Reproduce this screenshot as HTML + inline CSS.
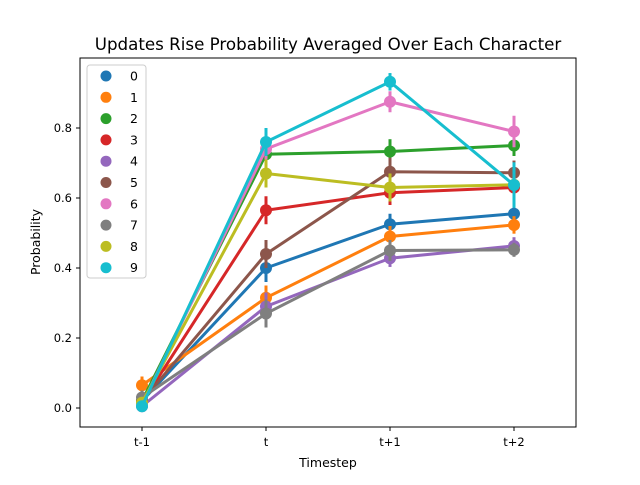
<!DOCTYPE html>
<html><head><meta charset="utf-8"><style>
body{margin:0;background:#fff}
svg{font-family:"DejaVu Sans","Liberation Sans",sans-serif}
</style></head><body>
<svg id="chart" width="640" height="480">
<rect width="640" height="480" fill="#fff"/>
<text x="328" y="50" text-anchor="middle" font-size="16.7">Updates Rise Probability Averaged Over Each Character</text>
<g id="plot"></g>
<rect x="80" y="58" width="496" height="369" fill="none" stroke="#000" stroke-width="1"/>
<text x="328" y="467" text-anchor="middle" font-size="12.5">Timestep</text>
<text x="0" y="0" transform="translate(40,242) rotate(-90)" text-anchor="middle" font-size="12.5">Probability</text>
<g id="legend"></g>
</svg>
<script>
const categories=["t-1","t","t+1","t+2"];
const seriesNames=["0","1","2","3","4","5","6","7","8","9"];
const colors=["#1f77b4","#ff7f0e","#2ca02c","#d62728","#9467bd","#8c564b","#e377c2","#7f7f7f","#bcbd22","#17becf"];
const s0=[0.02,0.40,0.525,0.555];
const s1=[0.065,0.315,0.49,0.523];
const s2=[0.02,0.725,0.733,0.75];
const s3=[0.015,0.565,0.615,0.63];
const s4=[0.005,0.29,0.428,0.463];
const s5=[0.02,0.44,0.675,0.672];
const s6=[0.01,0.74,0.875,0.79];
const s7=[0.03,0.27,0.45,0.452];
const s8=[0.015,0.67,0.63,0.638];
const s9=[0.005,0.76,0.932,0.637];
const seriesValues=[s0,s1,s2,s3,s4,s5,s6,s7,s8,s9];
const e0=[0.015,0.04,0.03,0.025];
const e1=[0.025,0.035,0.03,0.025];
const e2=[0.015,0.03,0.035,0.03];
const e3=[0.015,0.04,0.035,0.03];
const e4=[0.01,0.04,0.025,0.025];
const e5=[0.015,0.04,0.04,0.035];
const e6=[0.01,0.03,0.03,0.045];
const e7=[0.02,0.04,0.03,0.02];
const e8=[0.015,0.04,0.04,0.03];
const e9=[0.01,0.04,0.025,0.065];
const seriesErrors=[e0,e1,e2,e3,e4,e5,e6,e7,e8,e9];
const yTicks=[0.0,0.2,0.4,0.6,0.8];
const NS="http://www.w3.org/2000/svg";
function xs(i){return 142+i*124;}
function ys(v){return 408-350*v;}
function mk(tag,attrs,parent){const e=document.createElementNS(NS,tag);for(const k in attrs)e.setAttribute(k,attrs[k]);parent.appendChild(e);return e;}
const plot=document.getElementById('plot');
yTicks.forEach(t=>{
  const l=mk('line',{x1:76,x2:80,y1:ys(t),y2:ys(t),stroke:'#000'},plot);
  
  
  const tx=mk('text',{x:72,y:ys(t)+4,'text-anchor':'end','font-size':11.5},plot);
  tx.textContent=t.toFixed(1);
  
  
});
categories.forEach((c,i)=>{
  const l=mk('line',{x1:xs(i),x2:xs(i),y1:427,y2:431,stroke:'#000'},plot);
  
  
  const tx=mk('text',{x:xs(i),y:446,'text-anchor':'middle','font-size':11.5},plot);
  tx.textContent=c;
  
  
});
seriesValues.forEach((vals,si)=>{
  const g=mk('g',{},plot);
  
  
  vals.forEach((v,i)=>{
    const e=seriesErrors[si][i];
    const eb=mk('line',{x1:xs(i),x2:xs(i),y1:ys(v-e),y2:ys(v+e),stroke:colors[si],'stroke-width':3},g);
    
    
  });
  const pl=mk('polyline',{points:vals.map((v,i)=>xs(i)+','+ys(v)).join(' '),fill:'none',stroke:colors[si],'stroke-width':3},g);
  
  
  vals.forEach((v,i)=>{
    const c=mk('circle',{cx:xs(i),cy:ys(v),r:6,fill:colors[si]},g);
    
    
  });
});
const lg=document.getElementById('legend');
const box=mk('rect',{x:87,y:65,width:59,height:213,rx:3,fill:'#fff','fill-opacity':0.8,stroke:'#ccc'},lg);


seriesNames.forEach((n,i)=>{
  const y=76+i*21.3;
  const c=mk('circle',{cx:106,cy:y,r:5.5,fill:colors[i]},lg);
  
  
  const t=mk('text',{x:130,y:y+4.5,'font-size':12.5},lg);
  t.textContent=n;
  
  
});
</script>
</body></html>
